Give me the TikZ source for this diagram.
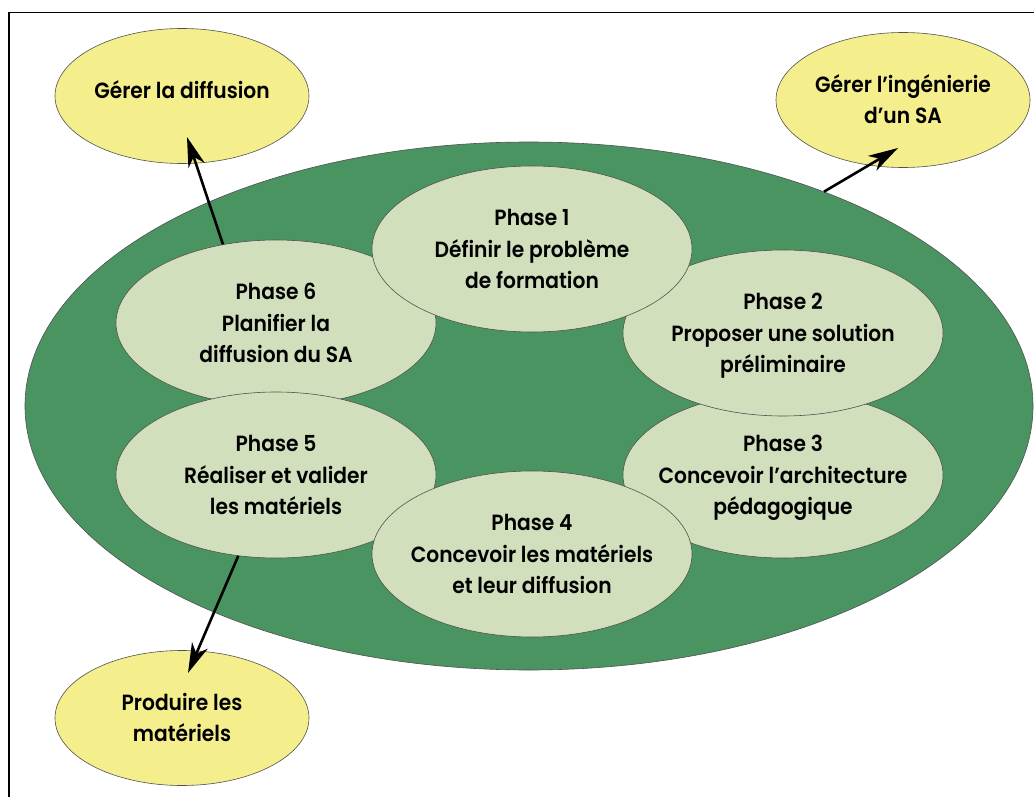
\documentclass[tikz,border=0pt]{standalone}
\usepackage{fontspec}
\setmainfont{Poppins}[FakeStretch=0.92, UprightFont=*-SemiBold]
\usetikzlibrary{shapes.geometric,arrows.meta,calc}

\definecolor{ringgreen}{RGB}{74,148,98}
\definecolor{phasegreen}{RGB}{210,223,188}
\definecolor{goalyellow}{RGB}{244,239,140}
\definecolor{edgegrey}{RGB}{80,80,80}

% centred lines of text that never enlarge the ellipse around them
\newcommand{\ellipsetext}[1]{\makebox[0pt][c]{\smash{\raisebox{-7pt}{\begin{tabular}{@{}c@{}}#1\end{tabular}}}}}

\tikzset{
  ring/.style={ellipse, draw=edgegrey, line width=0.6pt, fill=ringgreen,
    minimum width=1008pt, minimum height=528pt, inner sep=0pt},
  phase/.style={ellipse, draw=edgegrey, line width=0.6pt, fill=phasegreen,
    minimum width=320pt, minimum height=166pt, inner sep=0pt,
    font=\fontsize{22}{31.5}\selectfont},
  goal/.style={ellipse, draw=edgegrey, line width=0.6pt, fill=goalyellow,
    minimum width=254pt, minimum height=135pt, inner sep=0pt,
    font=\fontsize{22}{31.5}\selectfont},
  link/.style={line width=2.6pt, -{Stealth[length=30pt, width=17pt, inset=9pt]}},
  frame/.style={line width=1.6pt}
}

\begin{document}
\begin{tikzpicture}[x=1pt, y=-1pt]
  \useasboundingbox (0,0) rectangle (1034,797);

  % open frame, left and top sides only
  \coordinate (fb) at (9,797);
  \coordinate (fc) at (9,12.5);
  \coordinate (fr) at (1034,12.5);
  \draw[frame] (fb) -- (fc) -- (fr);

  % outer ring holding the six phases
  \node[ring] (ring) at (529,406) {};

  % phases, stacked so that each overlaps its neighbours
  \node[phase] (p3) at (783,475) {\ellipsetext{Phase 3\\Concevoir l’architecture\\pédagogique}};
  \node[phase] (p6) at (276,323) {\ellipsetext{Phase 6\\Planifier la\\diffusion du SA}};
  \node[phase] (p5) at (276,475) {\ellipsetext{Phase 5\\Réaliser et valider\\les matériels}};
  \node[phase] (p4) at (532,554) {\ellipsetext{Phase 4\\Concevoir les matériels\\et leur diffusion}};
  \node[phase] (p2) at (783,333) {\ellipsetext{Phase 2\\Proposer une solution\\préliminaire}};
  \node[phase] (p1) at (532,249) {\ellipsetext{Phase 1\\Définir le problème\\de formation}};

  % outside processes
  \node[goal] (gd) at (182,96) {\ellipsetext{\raisebox{7pt}{Gérer la diffusion}}};
  \node[goal] (gi) at (903,100) {\ellipsetext{Gérer l’ingénierie\\d’un SA}};
  \node[goal] (pm) at (182,718) {\ellipsetext{Produire les\\matériels}};

  % arrow tips reach into the target ellipses
  \coordinate (t1) at ($(gd.center)+(5,41)$);
  \coordinate (t2) at ($(gi.center)+(-5,48)$);
  \coordinate (t3) at ($(pm.center)+(6,-45)$);

  \draw[link] (p6.124) -- (t1);
  \draw[link] (ring.36.4) -- (t2);
  \draw[link] (p5.245) -- (t3);
\end{tikzpicture}
\end{document}
